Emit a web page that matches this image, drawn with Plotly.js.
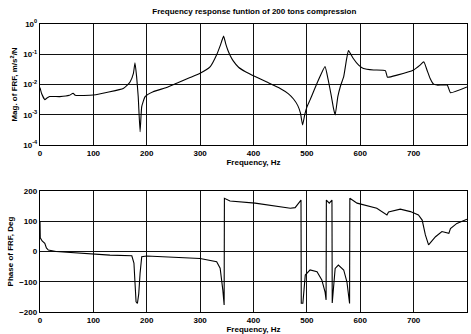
<!DOCTYPE html>
<html><head><meta charset="utf-8">
<script src="https://cdn.plot.ly/plotly-3.0.1.min.js"></script>
<style>html,body{margin:0;padding:0;background:#fff}#c{width:471px;height:334px}</style>
</head><body><div id="c"></div>
<script>
// Magnitude of FRF (m/s^2/N) vs frequency (Hz)
const magFreq = [0, 3, 9, 13, 18, 37, 55, 62, 66, 100, 131, 156, 163, 169, 175, 178, 181, 184, 187.5, 190.6, 197, 212, 237, 256, 280, 300, 319, 331, 338, 344, 348, 352, 356, 362, 372, 385, 403, 425, 450, 465, 475, 483, 488, 492, 496, 500, 506, 519, 534, 540, 546, 550, 553, 558, 563, 569, 574, 578, 587, 597, 606, 625, 647, 651, 669, 700, 712, 719, 725, 731, 737, 744, 763, 769, 800];
const magValue = [7.94e-3, 5.01e-3, 3.16e-3, 3.55e-3, 3.98e-3, 3.98e-3, 4.37e-3, 5.13e-3, 4.37e-3, 4.47e-3, 5.75e-3, 7.41e-3, 9.33e-3, 1.23e-2, 2.34e-2, 5.25e-2, 1.82e-2, 3.98e-3, 2.75e-4, 1.86e-3, 3.98e-3, 5.75e-3, 7.94e-3, 1.10e-2, 1.66e-2, 2.34e-2, 3.89e-2, 9.55e-2, 0.20, 0.398, 0.22, 0.135, 9.33e-2, 6.03e-2, 3.72e-2, 2.63e-2, 1.82e-2, 1.20e-2, 7.41e-3, 5.01e-3, 3.31e-3, 2.00e-3, 1.12e-3, 4.57e-4, 1.00e-3, 1.78e-3, 3.09e-3, 1.10e-2, 3.89e-2, 1.41e-2, 3.98e-3, 1.58e-3, 9.77e-4, 3.98e-3, 8.91e-3, 1.82e-2, 6.31e-2, 0.132, 7.24e-2, 4.37e-2, 3.39e-2, 3.02e-2, 2.88e-2, 1.74e-2, 2.04e-2, 3.02e-2, 4.37e-2, 5.62e-2, 3.02e-2, 1.58e-2, 1.05e-2, 9.55e-3, 9.55e-3, 5.37e-3, 8.32e-3];

// Phase of FRF (deg) vs frequency (Hz)
const phaseFreq = [0, 0.5, 4, 9, 12, 15.6, 30, 60, 100, 131, 172, 176, 178, 180, 182.5, 185, 187.5, 190.6, 200, 250, 300, 331, 337.5, 342.5, 345, 345.5, 356, 403, 469, 478, 489, 489.5, 492.5, 497, 506, 519, 528, 534, 536, 536.5, 542, 547, 547.5, 553, 559, 569, 575, 580, 580.5, 594, 619, 631, 650, 653, 675, 694, 709, 716, 722, 728, 741, 753, 766, 769, 781, 800];
const phaseValue = [100, 45, 35, 27, 12, 5, 0, -4, -8, -12, -14, -38, -104, -166, -172, -140, -72, -17, -15, -19, -23, -34, -55, -127, -177, 176, 167, 160, 143, 145, 170, -171, -171, -78, -61, -67, -94, -133, -160, 170, 160, 170, -170, -56, -45, -61, -100, -172, 176, 160, 148, 143, 121, 131, 140, 132, 121, 104, 55, 22, 49, 66, 60, 76, 93, 107];

const titleText = "Frequency response funtion of 200 tons compression";
const xTitle = "Frequency, Hz";
const magTitle = "Mag. of FRF, m/s<sup>2</sup>/N";
const phaseTitle = "Phase of FRF, Deg";
const xTicks = [0, 100, 200, 300, 400, 500, 600, 700, 800];
const magTickVals = [1e-4, 1e-3, 1e-2, 1e-1, 1];
const magTickText = ["10<sup>-4</sup>", "10<sup>-3</sup>", "10<sup>-2</sup>", "10<sup>-1</sup>", "10<sup>0</sup>"];
const phaseTicks = [-200, -100, 0, 100, 200];

const F = "Liberation Sans, Arial, sans-serif";
const lineStyle = {color: "#000", width: 1.1, shape: "spline", smoothing: 0.4};
const axisCommon = {
  showline: true, mirror: true, linecolor: "#000", linewidth: 1.2,
  showgrid: true, gridcolor: "#111", gridwidth: 1.1,
  zeroline: false, ticks: "", tickfont: {family: F, size: 8, color: "#000", weight: "bold"}
};

const traces = [
  {x: magFreq, y: magValue, type: "scatter", mode: "lines", line: lineStyle, xaxis: "x", yaxis: "y", hoverinfo: "skip"},
  {x: phaseFreq, y: phaseValue, type: "scatter", mode: "lines", line: {color: "#000", width: 1.1}, xaxis: "x2", yaxis: "y2", hoverinfo: "skip"}
];

const layout = {
  width: 471, height: 334,
  margin: {l: 40, r: 4, t: 24, b: 22},
  paper_bgcolor: "#fff", plot_bgcolor: "#fff",
  showlegend: false,
  font: {family: F, color: "#000"},
  title: {text: titleText, font: {family: F, size: 8, color: "#000", weight: "bold"}, x: 0.54, xanchor: "center", y: 0.965, yanchor: "middle"},
  xaxis: Object.assign({}, axisCommon, {domain: [0, 1], range: [0, 800], tickvals: xTicks, anchor: "y",
    title: {text: xTitle, font: {family: F, size: 8, weight: "bold"}, standoff: 2}}),
  yaxis: Object.assign({}, axisCommon, {domain: [0.58, 1], type: "log", range: [-4, 0], tickvals: magTickVals, ticktext: magTickText, anchor: "x",
    title: {text: magTitle, font: {family: F, size: 8, weight: "bold"}, standoff: 4}}),
  xaxis2: Object.assign({}, axisCommon, {domain: [0, 1], range: [0, 800], tickvals: xTicks, anchor: "y2",
    title: {text: xTitle, font: {family: F, size: 8, weight: "bold"}, standoff: 2}}),
  yaxis2: Object.assign({}, axisCommon, {domain: [0, 0.42], range: [-200, 200], tickvals: phaseTicks, anchor: "x2",
    title: {text: phaseTitle, font: {family: F, size: 8, weight: "bold"}, standoff: 4}})
};

Plotly.newPlot("c", traces, layout, {staticPlot: true, displayModeBar: false});
</script>
</body></html>
